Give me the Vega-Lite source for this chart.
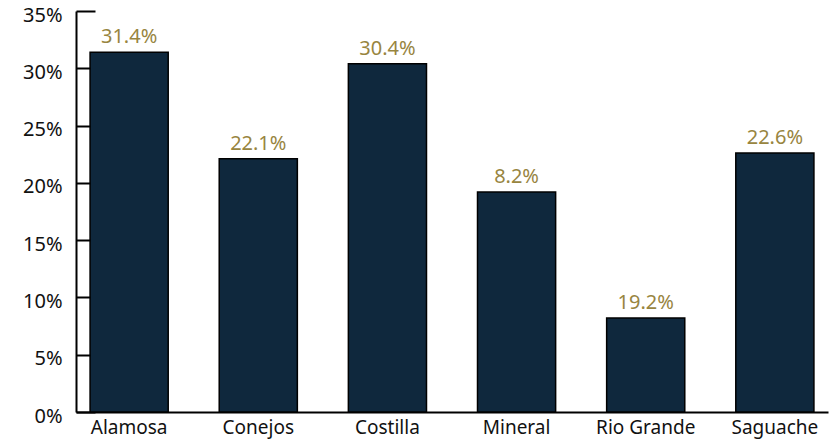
{
  "$schema": "https://vega.github.io/schema/vega-lite/v6.json",
  "width": 752,
  "height": 401,
  "autosize": {"type": "none"},
  "padding": {"left": 76, "top": 11, "right": 12, "bottom": 31},
  "background": "white",
  "config": {
    "view": {"stroke": null},
    "font": "Noto Sans",
    "axis": {"grid": false}
  },
  "data": {
    "values": [
      {"county": "Alamosa", "value": 31.4, "label": "31.4%"},
      {"county": "Conejos", "value": 22.1, "label": "22.1%"},
      {"county": "Costilla", "value": 30.4, "label": "30.4%"},
      {"county": "Mineral", "value": 19.2, "label": "8.2%"},
      {"county": "Rio Grande", "value": 8.2, "label": "19.2%"},
      {"county": "Saguache", "value": 22.6, "label": "22.6%"}
    ]
  },
  "resolve": {"scale": {"x": "independent"}, "axis": {"x": "independent"}},
  "layer": [
    {
      "encoding": {
        "x": {
          "field": "county", "type": "nominal", "sort": null,
          "scale": {"paddingInner": 0.395, "paddingOuter": 0.109},
          "axis": {
            "orient": "bottom", "title": null, "ticks": false, "labelAngle": 0,
            "domainColor": "#000000", "domainWidth": 2,
            "labelFontSize": 19, "labelColor": "#111111", "labelPadding": 6
          }
        },
        "y": {
          "field": "value", "type": "quantitative",
          "scale": {"domain": [0, 35], "nice": false},
          "axis": {
            "title": null, "values": [0, 5, 10, 15, 20, 25, 30, 35],
            "labelExpr": "datum.value + '%'",
            "domainColor": "#000000", "domainWidth": 2,
            "tickColor": "#000000", "tickWidth": 2, "tickSize": -19,
            "labelFontSize": 20, "labelColor": "#111111", "labelPadding": 33,
            "labelOffset": 4
          }
        }
      },
      "layer": [
        {
          "mark": {"type": "bar", "fill": "#0F283D", "stroke": "#000000", "strokeWidth": 1.5}
        },
        {
          "mark": {"type": "text", "baseline": "alphabetic", "dy": -9, "fontSize": 20, "color": "#98853F"},
          "encoding": {"text": {"field": "label"}}
        }
      ]
    },
    {
      "mark": {"type": "point", "opacity": 0},
      "encoding": {
        "x": {
          "field": "county", "type": "nominal", "sort": null,
          "scale": {"paddingInner": 0, "paddingOuter": 0},
          "axis": {
            "orient": "bottom", "title": null, "labels": false, "domain": false,
            "ticks": true, "bandPosition": 1, "tickSize": -9,
            "tickColor": "#000000", "tickWidth": 1.5
          }
        }
      }
    }
  ]
}
